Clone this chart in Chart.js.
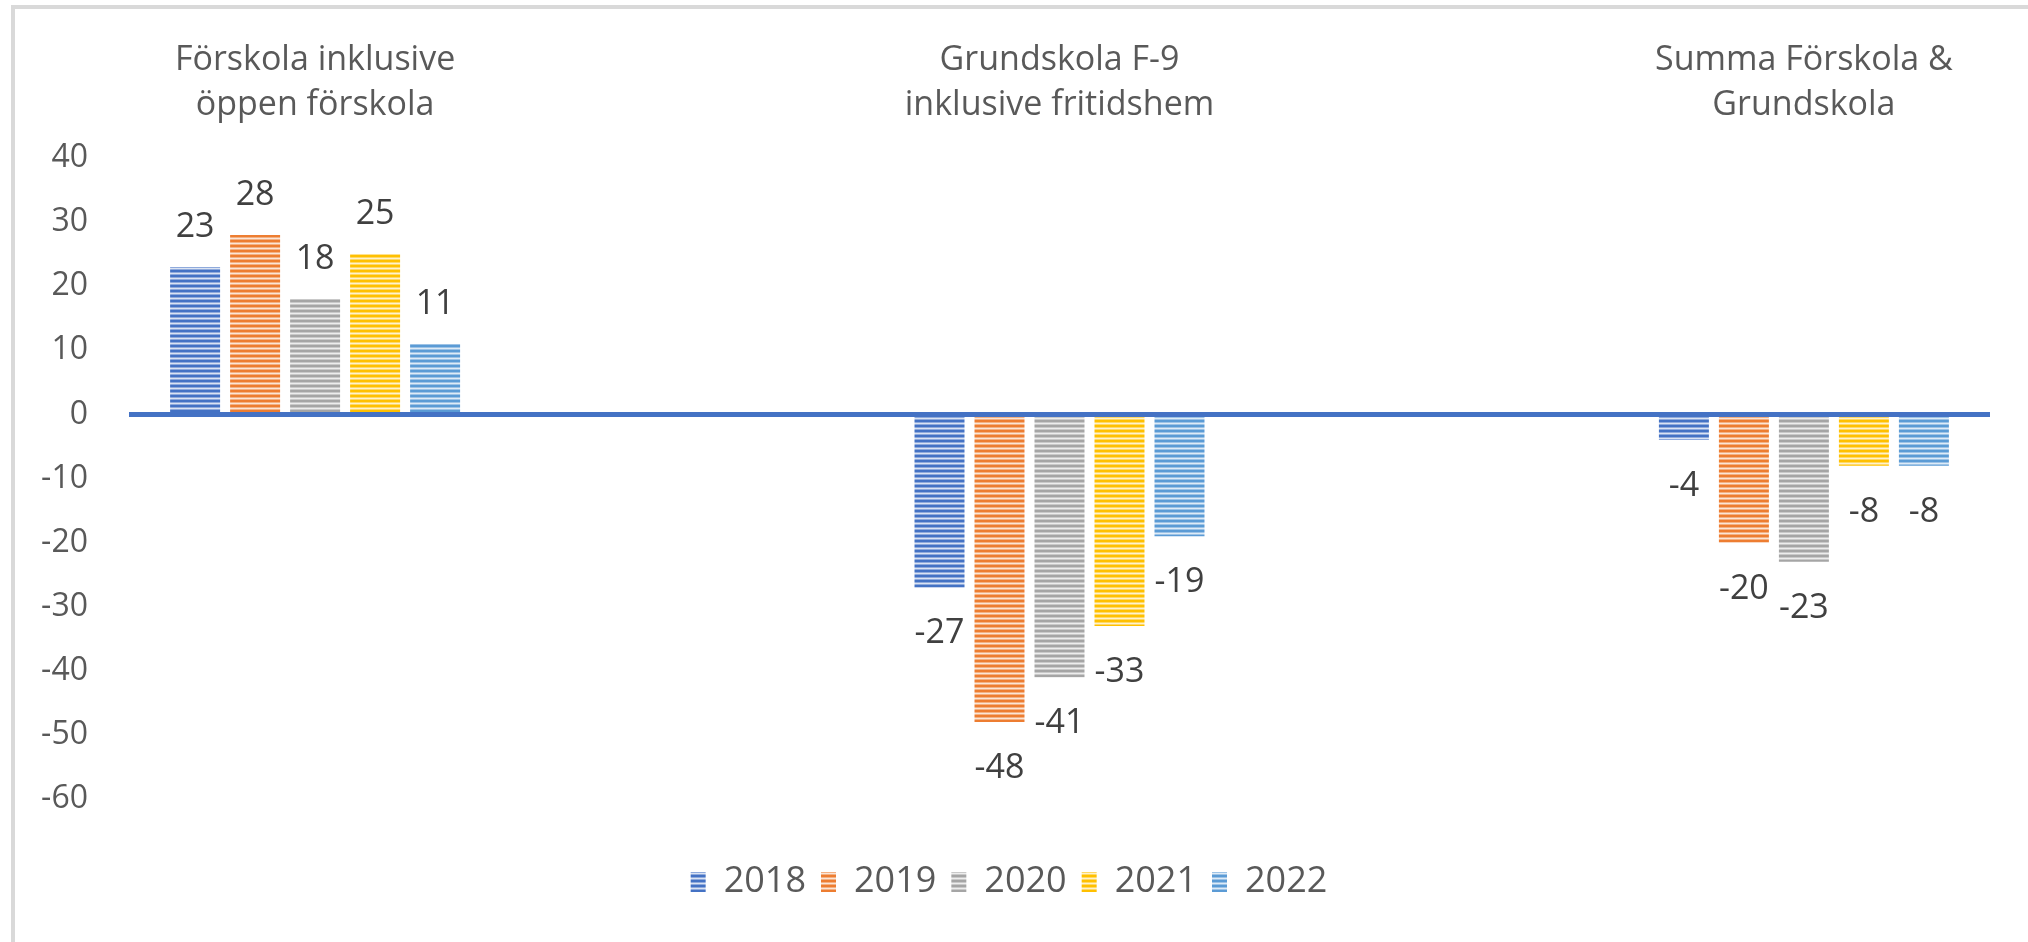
<!DOCTYPE html>
<html>
<head>
<meta charset="utf-8">
<script src="https://cdn.jsdelivr.net/npm/chart.js@4.4.0/dist/chart.umd.min.js"></script>
<style>
  html, body { margin: 0; padding: 0; background: #fff; overflow: hidden; }
  #frame { position: absolute; left: 11px; top: 5px; width: 2100px; height: 1000px;
           border-left: 4px solid #d9d9d9; border-top: 4px solid #d9d9d9; }
  #chart { position: absolute; left: 0; top: 0; }
</style>
</head>
<body>
<div id="frame"></div>
<canvas id="chart" width="2028" height="942"></canvas>
<script>
// kategorier (tomma mellanrum mellan grupperna)
const categories = [
    ['Förskola inklusive', 'öppen förskola'],
    '',
    ['Grundskola F-9', 'inklusive fritidshem'],
    '',
    ['Summa Förskola &', 'Grundskola']
];
const years = ['2018', '2019', '2020', '2021', '2022'];

const values2018 = [23, null, -27, null, -4];
const values2019 = [28, null, -48, null, -20];
const values2020 = [18, null, -41, null, -23];
const values2021 = [25, null, -33, null, -8];
const values2022 = [11, null, -19, null, -8];

const yMin = -60;
const yMax = 40;
const yStep = 10;

const seriesColors = ['#4472c4', '#ed7d31', '#a5a5a5', '#ffc000', '#5b9bd5'];

// blanda färg med vitt
function lighten(hex, t) {
    const n = parseInt(hex.slice(1), 16);
    const r = (n >> 16) & 255, g = (n >> 8) & 255, b = n & 255;
    const m = c => Math.round(c + (255 - c) * t);
    return `rgb(${m(r)},${m(g)},${m(b)})`;
}

// randigt mönster som i Excel
function stripes(color) {
    const c = document.createElement('canvas');
    c.width = 4;
    c.height = 5;
    const x = c.getContext('2d');
    const rows = [0, 0, 0.4, 0.8, 0.4];
    rows.forEach((t, i) => {
        x.fillStyle = t === 0 ? color : lighten(color, t);
        x.fillRect(0, i, 4, 1);
    });
    return document.getElementById('chart').getContext('2d').createPattern(c, 'repeat');
}

const allValues = [values2018, values2019, values2020, values2021, values2022];

const datasets = years.map((y, i) => ({
    label: y,
    data: allValues[i],
    backgroundColor: stripes(seriesColors[i]),
    borderWidth: 0,
    categoryPercentage: 0.806,
    barPercentage: 0.833,
    xAxisID: 'x'
}));

// dataetiketter utanför stapelns ände
const valueLabels = {
    id: 'valueLabels',
    afterDatasetsDraw(chart) {
        const ctx = chart.ctx;
        ctx.save();
        ctx.font = "34px 'Open Sans'";
        ctx.fillStyle = '#404040';
        ctx.textAlign = 'center';
        ctx.textBaseline = 'alphabetic';
        chart.data.datasets.forEach((ds, i) => {
            const meta = chart.getDatasetMeta(i);
            meta.data.forEach((bar, j) => {
                const v = ds.data[j];
                if (v === null) return;
                if (v >= 0) {
                    ctx.fillText(String(v), bar.x, bar.y - 30);
                } else {
                    ctx.fillText(String(v), bar.x, bar.y + 56);
                }
            });
        });
        ctx.restore();
    }
};

Chart.defaults.font.family = "'Open Sans', sans-serif";
Chart.defaults.color = '#595959';

const chart = new Chart(document.getElementById('chart'), {
    type: 'bar',
    data: {
        labels: categories,
        datasets: datasets
    },
    options: {
        responsive: false,
        animation: false,
        layout: {
            padding: { left: 28, top: 0, right: 38, bottom: 32 }
        },
        plugins: {
            tooltip: { enabled: false },
            legend: {
                display: true,
                position: 'bottom',
                labels: {
                    boxWidth: 15,
                    boxHeight: 20,
                    padding: 15,
                    color: '#595959',
                    font: { size: 36 }
                }
            }
        },
        scales: {
            x: {
                position: 'top',
                grid: { display: false },
                border: { display: false },
                ticks: {
                    font: { size: 34, lineHeight: 1.32 },
                    color: '#595959',
                    padding: 22,
                    maxRotation: 0,
                    autoSkip: false
                },
                afterFit(s) { s.height = 158; }
            },
            x2: {
                type: 'category',
                position: 'bottom',
                grid: { display: false },
                border: { display: false },
                ticks: { display: false },
                afterFit(s) { s.height = 50; }
            },
            y: {
                min: yMin,
                max: yMax,
                border: { display: false },
                grid: {
                    drawTicks: false,
                    lineWidth: 5,
                    color: c => (c.tick && c.tick.value === 0 ? '#4472c4' : 'rgba(0,0,0,0)')
                },
                ticks: {
                    stepSize: yStep,
                    padding: 41,
                    color: '#595959',
                    font: { size: 32 }
                },
                afterFit(s) { s.width = 101; }
            }
        }
    },
    plugins: [valueLabels]
});
</script>
</body>
</html>
